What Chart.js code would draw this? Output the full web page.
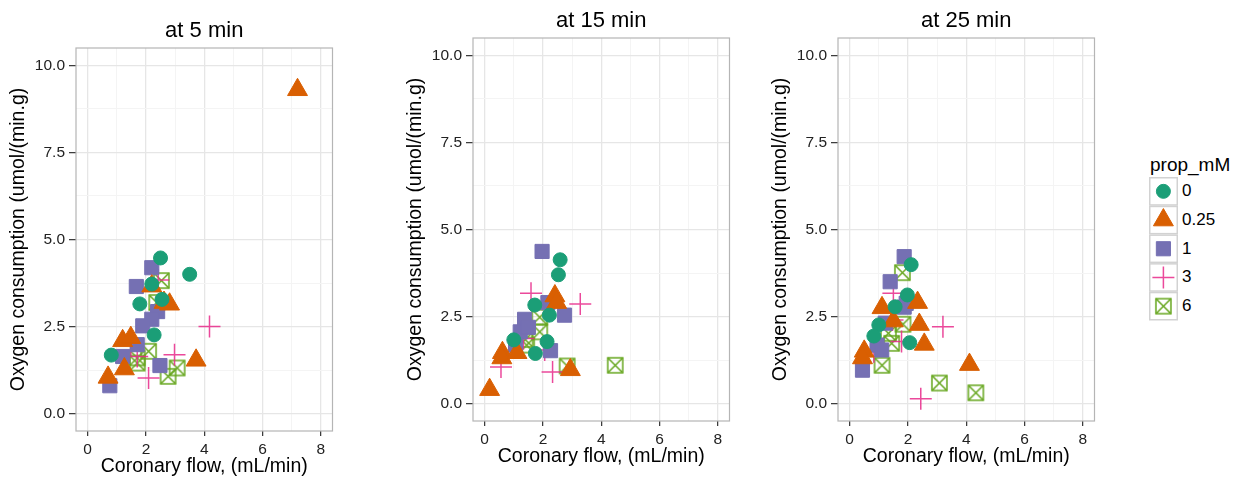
<!DOCTYPE html>
<html>
<head>
<meta charset="utf-8">
<script src="https://cdn.jsdelivr.net/npm/chart.js@4.4.1/dist/chart.umd.min.js"></script>
<style>
  body { margin: 0; background: #fff; width: 1244px; height: 483px; overflow: hidden; position: relative;
         font-family: "Liberation Sans", Arial, sans-serif; }
  .panel { position: absolute; width: 345px; height: 483px; }
  #legend-title { position: absolute; left: 1150px; top: 154px; font-size: 19px; line-height: 22px; color: #000; }
  .leg-label { position: absolute; left: 1182px; font-size: 17px; line-height: 20px; color: #000; }
  #legend-keys { position: absolute; left: 1148px; top: 176px; }
</style>
</head>
<body>
<div class="panel" style="left:0;top:0"><canvas id="p5" width="345" height="483"></canvas></div>
<div class="panel" style="left:397px;top:-10px"><canvas id="p15" width="345" height="483"></canvas></div>
<div class="panel" style="left:762px;top:-10px"><canvas id="p25" width="345" height="483"></canvas></div>
<div id="legend-title">prop_mM</div>
<canvas id="legend-keys" width="31" height="147"></canvas>

<script>
// groups (prop_mM)
const groups = ['0', '0.25', '1', '3', '6'];

// at 5 min: coronary flow / oxygen consumption, one inner array per group
const flow5 = [
  [2.50, 3.50, 1.79, 2.28, 0.81, 2.20, 2.55],
  [7.20, 2.20, 2.62, 2.81, 1.20, 1.48, 3.72, 1.26, 0.70],
  [2.20, 1.67, 2.40, 2.20, 1.89, 1.70, 1.20, 2.48, 0.76],
  [2.42, 4.18, 1.48, 2.09, 2.98, 1.70],
  [2.53, 2.37, 2.09, 1.70, 1.70, 3.07, 2.76]
];
const oxy5 = [
  [4.47, 4.00, 3.15, 2.26, 1.68, 3.72, 3.28],
  [9.30, 3.66, 3.19, 3.14, 2.09, 2.18, 1.53, 1.28, 1.04],
  [4.19, 3.65, 2.93, 2.71, 2.52, 1.98, 1.64, 1.38, 0.80],
  [3.84, 2.50, 1.98, 1.02, 1.69, 1.64],
  [3.82, 3.19, 1.79, 1.60, 1.45, 1.31, 1.07]
];

// at 15 min
const flow15 = [
  [2.59, 2.53, 1.72, 2.22, 1.00, 2.14, 1.74],
  [2.41, 2.47, 0.61, 0.59, 1.11, 2.94, 0.17],
  [1.97, 2.17, 2.74, 1.37, 1.22, 1.06, 2.26, 1.50],
  [1.59, 3.28, 1.33, 2.06, 0.56, 2.33],
  [1.89, 1.89, 1.39, 1.44, 2.83, 4.48]
];
const oxy15 = [
  [4.13, 3.70, 2.83, 2.54, 1.83, 1.78, 1.44],
  [3.09, 2.90, 1.46, 1.31, 1.46, 0.97, 0.40],
  [4.37, 2.90, 2.54, 2.42, 2.06, 1.68, 1.52, 2.19],
  [3.17, 2.86, 1.87, 1.54, 1.05, 0.91],
  [2.48, 2.06, 1.84, 1.68, 1.08, 1.10]
];

// at 25 min
const flow25 = [
  [2.11, 1.98, 1.56, 1.00, 0.83, 2.06],
  [1.11, 2.33, 1.50, 2.39, 2.56, 0.50, 0.44, 4.11],
  [1.87, 1.39, 1.94, 1.87, 1.22, 0.94, 0.44, 1.10],
  [1.50, 3.20, 1.78, 0.83, 2.44, 1.47],
  [1.81, 1.83, 1.33, 1.44, 1.11, 3.08, 4.33]
];
const oxy25 = [
  [3.99, 3.12, 2.78, 2.26, 1.94, 1.75],
  [2.75, 2.90, 2.37, 2.27, 1.70, 1.50, 1.31, 1.12],
  [4.22, 3.50, 2.88, 2.77, 2.31, 1.68, 0.96, 1.54],
  [3.17, 2.21, 1.78, 1.49, 0.14, 2.40],
  [3.76, 2.28, 2.02, 1.73, 1.10, 0.59, 0.31]
];

// axis ticks
const xTicks = [0, 2, 4, 6, 8];
const xMinor = [1, 3, 5, 7];
const yTicks = [0, 2.5, 5, 7.5, 10];
const yMinor = [1.25, 3.75, 6.25, 8.75];

Chart.defaults.font.family = '"Liberation Sans", Arial, sans-serif';

// square with an X (shape 7)
function boxMark(color) {
  const c = document.createElement('canvas');
  c.width = 19; c.height = 19;
  const g = c.getContext('2d');
  g.strokeStyle = color;
  g.lineWidth = 1.5;
  g.strokeRect(2, 2, 15, 15);
  g.beginPath();
  g.moveTo(2, 2); g.lineTo(17, 17);
  g.moveTo(17, 2); g.lineTo(2, 17);
  g.stroke();
  return c;
}

const marks = [
  { style: 'circle', radius: 7, color: '#1B9E77', border: 1 },
  { style: 'triangle', radius: 11.5, color: '#D95F02', border: 1 },
  { style: 'rect', radius: 10, color: '#7570B3', border: 1 },
  { style: 'cross', radius: 11, color: 'rgba(231,41,138,0.85)', border: 1.5 },
  { style: boxMark('#66A61E'), radius: 9, color: '#66A61E', border: 1.5 }
];

const isMajor = (v, list) => list.some(t => Math.abs(t - v) < 1e-9);

const frame = {
  id: 'frame',
  beforeDatasetsDraw(chart) {
    const { ctx, chartArea: a } = chart;
    ctx.save();
    ctx.strokeStyle = '#B5B5B5';
    ctx.lineWidth = 1.2;
    ctx.strokeRect(a.left, a.top, a.right - a.left, a.bottom - a.top);
    ctx.restore();
  }
};

function makeChart(id, title, flow, oxy) {
  const datasets = groups.map((g, i) => ({
    label: g,
    data: flow[i].map((x, j) => ({ x: x, y: oxy[i][j] })),
    pointStyle: marks[i].style,
    pointRadius: marks[i].radius,
    pointBackgroundColor: marks[i].color,
    pointBorderColor: marks[i].color,
    pointBorderWidth: marks[i].border
  }));

  const gridOpts = (major) => ({
    color: c => isMajor(c.tick.value, major) ? '#E6E6E6' : '#F4F4F4',
    lineWidth: c => isMajor(c.tick.value, major) ? 1.3 : 1,
    tickColor: c => isMajor(c.tick.value, major) ? '#333' : 'rgba(0,0,0,0)',
    tickWidth: 1.2
  });

  return new Chart(document.getElementById(id), {
    type: 'scatter',
    data: { datasets: datasets },
    options: {
      responsive: false,
      animation: false,
      events: [],
      layout: { padding: { left: 0, right: 5, top: 0, bottom: 0 } },
      plugins: {
        legend: { display: false },
        tooltip: { enabled: false },
        title: {
          display: true, text: title, fullSize: false, color: '#000',
          font: { size: 22, weight: 'normal' },
          padding: { top: 18, bottom: 3.6 }
        }
      },
      scales: {
        x: {
          type: 'linear', min: -0.4, max: 8.4, bounds: 'data',
          afterBuildTicks: s => { s.ticks = xTicks.concat(xMinor).sort((a, b) => a - b).map(v => ({ value: v })); },
          afterFit: s => { s.height = 52; },
          grid: Object.assign(gridOpts(xTicks), { tickLength: 5 }),
          border: { display: false },
          ticks: {
            autoSkip: false, maxRotation: 0, padding: 4, color: '#222', font: { size: 15.5 },
            callback: v => isMajor(v, xTicks) ? String(v) : ''
          },
          title: {
            display: true, text: 'Coronary flow, (mL/min)', color: '#000',
            font: { size: 19.5 }, padding: { top: 0, bottom: 4.6 }
          }
        },
        y: {
          type: 'linear', min: -0.5, max: 10.5, bounds: 'data',
          afterBuildTicks: s => { s.ticks = yTicks.concat(yMinor).sort((a, b) => a - b).map(v => ({ value: v })); },
          afterFit: s => { s.width = 76; },
          grid: Object.assign(gridOpts(yTicks), { tickLength: 7 }),
          border: { display: false },
          ticks: {
            autoSkip: false, padding: 4, color: '#222', font: { size: 15.5 },
            callback: v => isMajor(v, yTicks) ? v.toFixed(1) : ''
          },
          title: {
            display: true, text: 'Oxygen consumption (umol/(min.g)', color: '#000',
            font: { size: 19.5 }, padding: { top: 6.5, bottom: 0 }
          }
        }
      }
    },
    plugins: [frame]
  });
}

makeChart('p5', 'at 5 min', flow5, oxy5);
makeChart('p15', 'at 15 min', flow15, oxy15);
makeChart('p25', 'at 25 min', flow25, oxy25);

// legend: key boxes with the same marks, labels as text
(function () {
  const cv = document.getElementById('legend-keys');
  const ctx = cv.getContext('2d');
  const pitch = 28.7;
  groups.forEach((g, i) => {
    const top = 1 + i * pitch;
    ctx.save();
    ctx.strokeStyle = '#D2D2D2';
    ctx.lineWidth = 1.5;
    ctx.strokeRect(1.75, top + 0.75, 27.5, pitch - 1.5);
    ctx.restore();
    const cx = 15.4, cy = top + pitch / 2;
    ctx.save();
    ctx.fillStyle = marks[i].color;
    ctx.strokeStyle = marks[i].color;
    ctx.lineWidth = marks[i].border;
    Chart.helpers.drawPoint(ctx, {
      pointStyle: marks[i].style, radius: marks[i].radius,
      borderWidth: marks[i].border, rotation: 0
    }, cx, cy);
    ctx.restore();

    const lab = document.createElement('div');
    lab.className = 'leg-label';
    lab.textContent = g;
    lab.style.top = (176 + cy - 10) + 'px';
    document.body.appendChild(lab);
  });
})();
</script>
</body>
</html>
